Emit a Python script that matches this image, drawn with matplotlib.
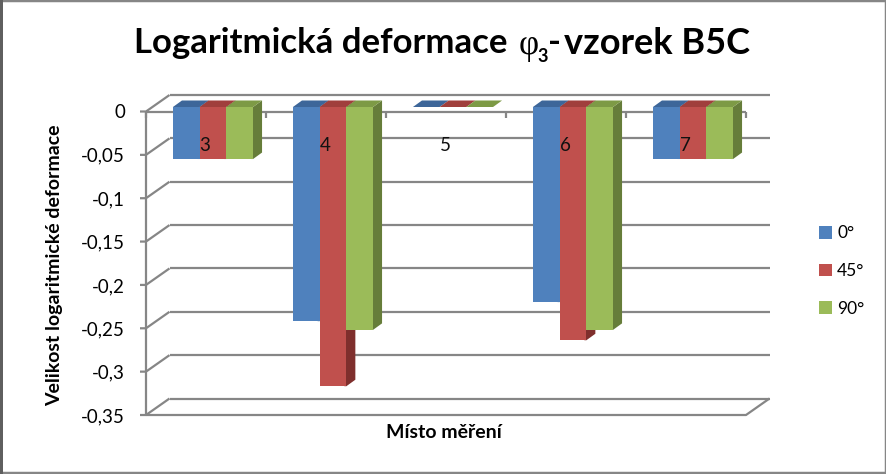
import matplotlib
matplotlib.use('Agg')
import matplotlib.pyplot as plt
from matplotlib.patches import Rectangle, Patch

plt.rcParams['font.family'] = ['Lato', 'DejaVu Sans']

# data
categories = ['3', '4', '5', '6', '7']
series_names = ['0°', '45°', '90°']
values_0 = [-0.06, -0.247, 0, -0.225, -0.06]
values_45 = [-0.06, -0.322, 0, -0.269, -0.06]
values_90 = [-0.06, -0.257, 0, -0.257, -0.06]
y_ticks = [0, -0.05, -0.1, -0.15, -0.2, -0.25, -0.3, -0.35]
y_labels = ['0', '-0,05', '-0,1', '-0,15', '-0,2', '-0,25', '-0,3', '-0,35']

front_colors = ['#4f81bd', '#c0504d', '#9bbb59']
top_colors = ['#3d6699', '#a03f3c', '#7d9a45']
side_colors = ['#385d8a', '#7f2f2d', '#667d3a']
grid_color = '#868686'

W, H = 886, 474
fig = plt.figure(figsize=(W / 100, H / 100), dpi=100)
# front plane of the fake 3D box: x 146-746 px, y 111.5-415 px
ax = fig.add_axes([146 / W, 1 - 415 / H, 600 / W, 303.5 / H])
ax.set_xlim(0, 5)
ax.set_ylim(-0.35, 0)
ax.axis('off')

px_x = 5 / 600
px_y = 0.35 / 303.5
wall_dx, wall_dy = 23.5 * px_x, 16.5 * px_y
shift_dx, shift_dy = 7 * px_x, 4.5 * px_y
depth_dx, depth_dy = 9 * px_x, 6.5 * px_y
bar_w = 26.7 * px_x


def line(xs, ys, lw=1.6, z=1):
    ax.plot(xs, ys, color=grid_color, lw=lw, clip_on=False, zorder=z,
            solid_capstyle='butt')


# back wall gridlines + left wall diagonals
for t in y_ticks:
    line([wall_dx, 5 + wall_dx], [t + wall_dy, t + wall_dy])
    line([-6 * px_x, 0, wall_dx], [t, t, t + wall_dy])
# front axes, floor edge
line([0, 0], [-0.35, 0])
line([0, 5], [0, 0], z=1.5)
line([0, 5, 5 + wall_dx], [-0.35, -0.35, -0.35 + wall_dy])
for i in range(6):
    line([i, i], [0, -6 * px_y])

# bars, left to right so that each front hides the side of its neighbour
all_values = [values_0, values_45, values_90]
z = 2
for g in range(len(categories)):
    for s, vals in enumerate(all_values):
        x0 = g + 0.5 + shift_dx + (s - 1.5) * bar_w
        x1 = x0 + bar_w
        top = shift_dy
        v = vals[g]
        # side starts a little under the front so no white seam shows
        ax.fill([x1 - 2 * px_x, x1, x1 + depth_dx, x1 + depth_dx, x1, x1 - 2 * px_x],
                [top, top, top + depth_dy, v + shift_dy + depth_dy, v + shift_dy, v + shift_dy],
                color=side_colors[s], lw=0, clip_on=False, zorder=z)
        ax.bar(x0, v, width=bar_w, bottom=top, align='edge', color=front_colors[s],
               lw=0, clip_on=False, zorder=z + 0.1)
        ax.fill([x0, x1, x1 + depth_dx, x0 + depth_dx],
                [top, top, top + depth_dy, top + depth_dy],
                color=top_colors[s], lw=0, clip_on=False, zorder=z + 0.1)
        z += 0.2

# tick labels
for t, lab in zip(y_ticks, y_labels):
    ax.text(-21 * px_x, t - 1.5 * px_y, lab, ha='right', va='center', fontsize=13.5,
            color='black', clip_on=False, zorder=10)
for g, lab in enumerate(categories):
    ax.text(g + 0.5 - 1 * px_x, -0.0395, lab, ha='center', va='center', fontsize=13.5,
            color='#111111', zorder=10)

# titles
fig.text(508 / W, 1 - 43 / H, 'Logaritmická deformace', fontsize=25, fontweight='bold',
         ha='right', va='center')
fig.text(519 / W, 1 - 45 / H, 'φ', fontsize=25, family='Liberation Serif', ha='left', va='center')
fig.text(537 / W, 1 - 56 / H, '3', fontsize=13, fontweight='bold', ha='left', va='center')
fig.text(548 / W, 1 - 43 / H, '-', fontsize=25, fontweight='bold', ha='left', va='center')
fig.text(750 / W, 1 - 43 / H, 'vzorek B5C', fontsize=26, fontweight='bold',
         ha='right', va='center')
fig.text(55 / W, 1 - 265 / H, 'Velikost logaritmické deformace', rotation=90, fontsize=14,
         fontweight='bold', ha='center', va='center')
fig.text(444 / W, 1 - 433 / H, 'Místo měření', fontsize=14, fontweight='bold',
         ha='center', va='center')

# legend
handles = [Patch(color=c, lw=0) for c in front_colors]
fig.legend(handles, series_names, loc='center left', bbox_to_anchor=(819 / W, 1 - 271 / H),
           frameon=False, fontsize=12.5, handlelength=0.75, handleheight=0.75,
           handletextpad=0.3, labelspacing=1.25, borderpad=0, borderaxespad=0)

# outer frame of the picture, left edge is darker
fig.add_artist(Rectangle((0, 1.5 / H), 1, 1 - 1.5 / H, transform=fig.transFigure, fill=False,
                         edgecolor=grid_color, lw=2.5))
fig.add_artist(Rectangle((0, 0), 3 / W, 1, transform=fig.transFigure, lw=0,
                         facecolor='#5f5f5f'))

fig.savefig('out.png', dpi=100)
